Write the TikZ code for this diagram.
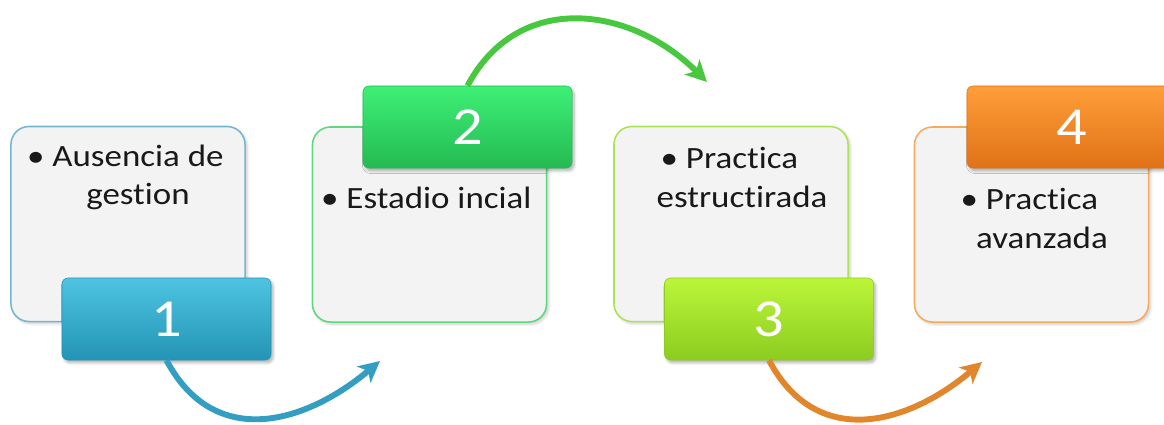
\documentclass[tikz,border=0pt]{standalone}
\usepackage{fontspec}
\setmainfont[FakeStretch=1.13,Ligatures={NoCommon}]{Carlito}
\usetikzlibrary{arrows.meta,shadows.blur}
\definecolor{boxgray}{RGB}{243,243,243}
\definecolor{txtcol}{RGB}{25,25,25}
\definecolor{lineA}{RGB}{115,182,208}
\definecolor{lineB}{RGB}{95,215,125}
\definecolor{lineC}{RGB}{172,226,85}
\definecolor{lineD}{RGB}{245,170,95}
\definecolor{topA}{RGB}{78,196,226}
\definecolor{botA}{RGB}{36,148,180}
\definecolor{topB}{RGB}{62,240,118}
\definecolor{botB}{RGB}{36,186,82}
\definecolor{topC}{RGB}{188,246,58}
\definecolor{botC}{RGB}{140,204,32}
\definecolor{topD}{RGB}{255,158,58}
\definecolor{botD}{RGB}{224,114,22}
\definecolor{arrA}{RGB}{52,158,194}
\definecolor{arrB}{RGB}{72,200,62}
\definecolor{arrC}{RGB}{226,134,44}
\begin{document}
\begin{tikzpicture}[x=0.025cm,y=0.025cm,
  box/.style={draw=#1,line width=1.1pt,fill=boxgray,rounded corners=0.45cm,
    minimum width=5.85cm,minimum height=4.875cm,
    blur shadow={shadow xshift=1.5pt,shadow yshift=-1.5pt,shadow opacity=20,shadow blur steps=6}},
  tab/.style={rounded corners=0.15cm,top color=top#1,bottom color=bot#1,draw=bot#1,
    minimum width=5.225cm,minimum height=2.05cm,text=white,
    font=\fontsize{38}{40}\selectfont,
    blur shadow={shadow xshift=1.5pt,shadow yshift=-2pt,shadow opacity=30,shadow blur steps=6}},
  txt/.style={align=center,text=txtcol,font=\fontsize{22}{27.6}\selectfont},
  arr/.style={draw=#1,line width=4.2pt,-{Stealth[length=15pt,width=15pt,inset=4pt]}}]
  \useasboundingbox (0,0) rectangle (1164,424);
  \node[box=lineA] (b1) at (128,200) {};
  \node[box=lineB] (b2) at (429.5,199.5) {};
  \node[box=lineC] (b3) at (731,200) {};
  \node[box=lineD] (b4) at (1031.5,199.5) {};
  \node[txt] (x1) at (138,246.5) {\llap{\textbullet\ }Ausencia de\\gestion};
  \node[txt] (x2) at (439,226) {\llap{\textbullet\ }Estadio incial};
  \node[txt] (x3) at (742,246.5) {\llap{\textbullet\ }Practica\\estructirada};
  \node[txt] (x4) at (1042,205.5) {\llap{\textbullet\ }Practica\\avanzada};
  \coordinate (e1) at (380,63);
  \coordinate (e2) at (707,342);
  \coordinate (e3) at (982,62);
  \node[tab=A] (t1) at (166.5,105) {1};
  \node[tab=B] (t2) at (467.5,297) {2};
  \node[tab=C] (t3) at (769,105) {3};
  \node[tab=D] (t4) at (1071.5,297) {4};
  \draw[arr=arrA] (t1.south) to[out=-62,in=-140,looseness=1.2] (e1);
  \draw[arr=arrB] (t2.north) to[out=62,in=135,looseness=1.15] (e2);
  \draw[arr=arrC] (t3.south) to[out=-62,in=-140,looseness=1.2] (e3);
\end{tikzpicture}
\end{document}
